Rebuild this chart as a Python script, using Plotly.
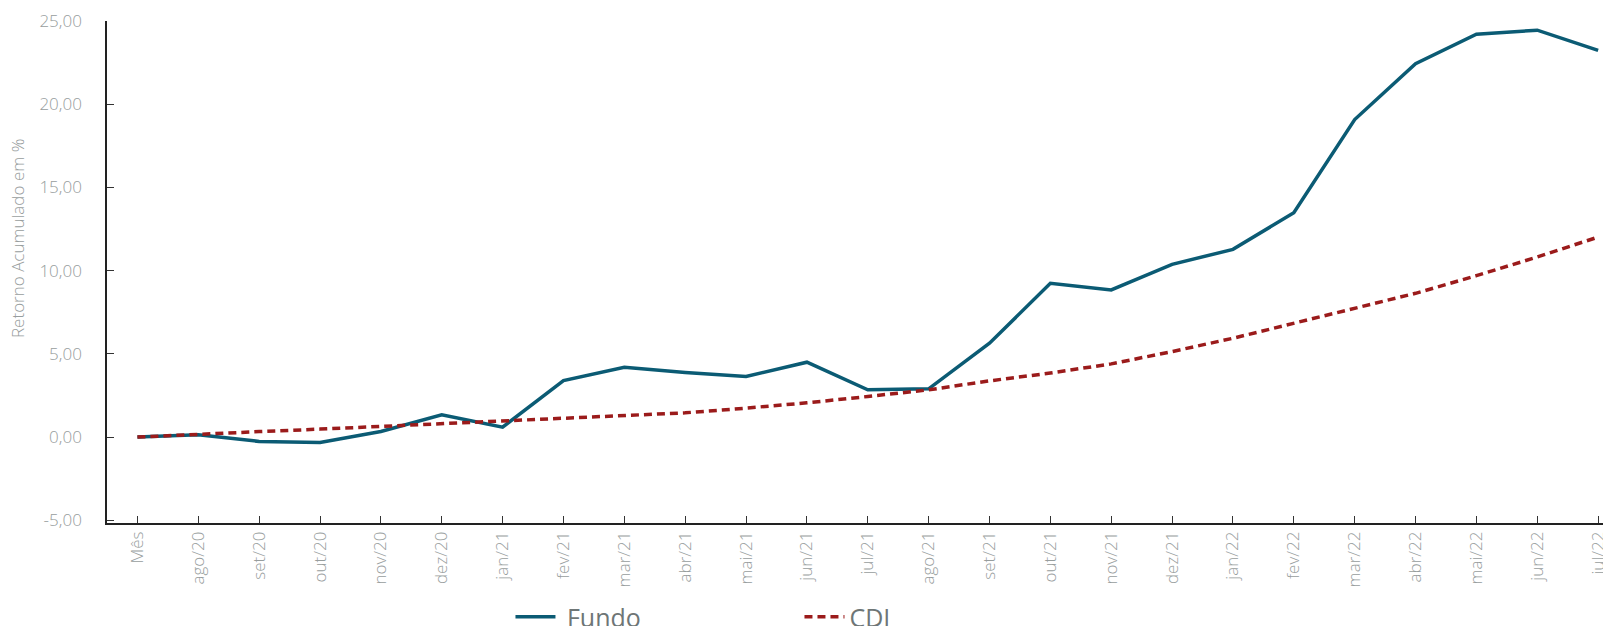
import plotly.graph_objects as go

categories = ["Mês", "ago/20", "set/20", "out/20", "nov/20", "dez/20", "jan/21", "fev/21",
              "mar/21", "abr/21", "mai/21", "jun/21", "jul/21", "ago/21", "set/21", "out/21",
              "nov/21", "dez/21", "jan/22", "fev/22", "mar/22", "abr/22", "mai/22", "jun/22", "jul/22"]
fundo = [0.0, 0.14, -0.26, -0.32, 0.34, 1.34, 0.60, 3.40, 4.20, 3.88, 3.64, 4.50, 2.84, 2.90,
         5.64, 9.24, 8.84, 10.38, 11.28, 13.48, 19.08, 22.43, 24.21, 24.45, 23.23]
cdi = [0.0, 0.18, 0.33, 0.48, 0.64, 0.82, 0.98, 1.10, 1.28, 1.46, 1.74, 2.06, 2.44, 2.84,
       3.38, 3.85, 4.40, 5.14, 5.94, 6.84, 7.70, 8.64, 9.70, 10.82, 12.02]
y_ticks = [-5, 0, 5, 10, 15, 20, 25]
y_tick_labels = ["-5,00", "0,00", "5,00", "10,00", "15,00", "20,00", "25,00"]

FONT = "Open Sans"
GRAY = "#979d9d"
NBSP = "\u00a0"

fig = go.Figure()
fig.add_trace(go.Scatter(x=categories, y=fundo, name=NBSP + "Fundo", mode="lines",
                         line=dict(color="#0b5b74", width=3.5)))
fig.add_trace(go.Scatter(x=categories, y=cdi, name="CDI", mode="lines",
                         line=dict(color="#9b1b1b", width=3.5, dash="8px,5px")))

fig.update_layout(
    width=1603, height=626,
    margin=dict(l=107, r=0, t=21, b=103, autoexpand=False),
    paper_bgcolor="white", plot_bgcolor="white",
    separators=",.",
    font=dict(family=FONT, color=GRAY),
    showlegend=True,
    legend=dict(orientation="h", x=0.2697, y=(626 - 617) / 626, xanchor="left", yanchor="middle",
                yref="container",
                font=dict(family=FONT, size=25, color="#6e7676"),
                entrywidth=234, entrywidthmode="pixels", itemwidth=40,
                bgcolor="rgba(0,0,0,0)"),
    xaxis=dict(
        type="category", range=[-0.5, 24.08], automargin=False,
        showline=True, linecolor="#222", linewidth=1.5,
        ticks="inside", ticklen=7, tickcolor="#333", tickwidth=1.2,
        tickangle=-90, tickfont=dict(family=FONT, size=17, color=GRAY, weight=300),
        showgrid=False, zeroline=False, fixedrange=True,
    ),
    yaxis=dict(
        range=[-5.16, 25.0], automargin=False,
        tickmode="array", tickvals=y_ticks, ticktext=y_tick_labels,
        showline=True, linecolor="#222", linewidth=1.5,
        ticks="inside", ticklen=7, tickcolor="#333", tickwidth=1.2,
        tickfont=dict(family=FONT, size=17, color=GRAY, weight=300),
        ticklabelstandoff=20,
        showgrid=False, zeroline=False,
    ),
    annotations=[dict(
        text="Retorno Acumulado em %", textangle=-90,
        xref="paper", yref="paper", x=(18 - 107) / 1496, y=(523.3 - 239) / 502.5,
        xanchor="center", yanchor="middle", showarrow=False,
        font=dict(family=FONT, size=17, color=GRAY, weight=300),
    )],
)

fig.write_html(
    "out.html",
    config={"displayModeBar": False},
    post_script="document.body.style.margin='0';document.body.style.overflow='hidden';",
)
